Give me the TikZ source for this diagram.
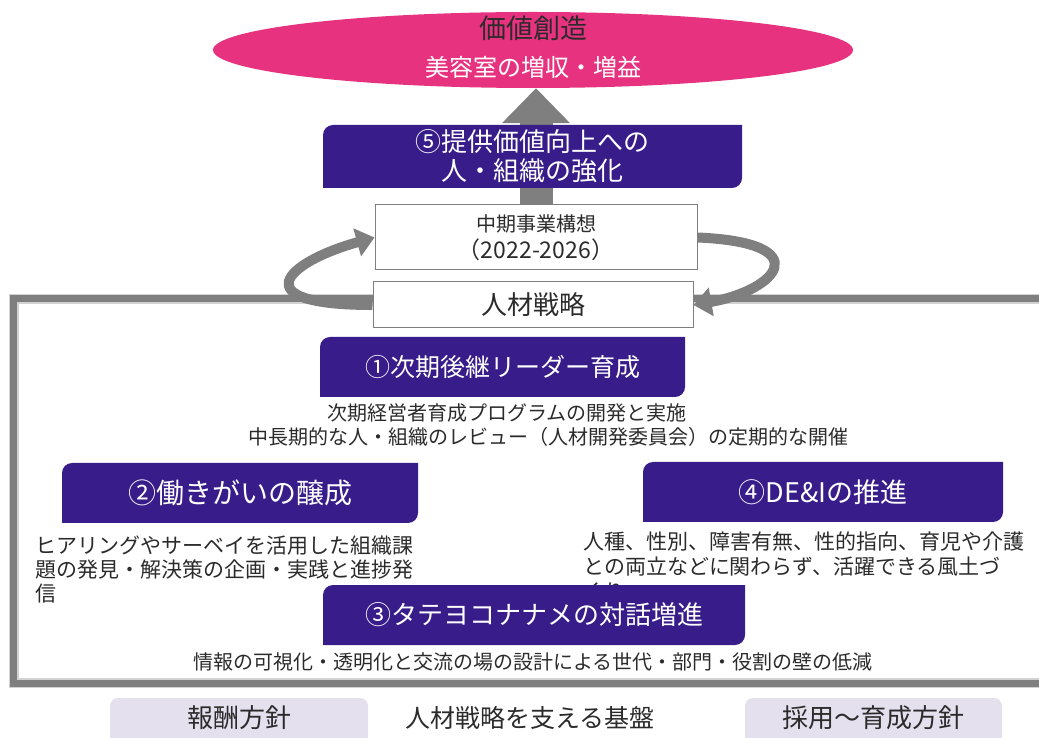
\documentclass[tikz,border=0pt]{standalone}
\usepackage{fontspec}
\setmainfont{Noto Sans CJK JP}
\usetikzlibrary{arrows.meta,shapes.geometric}
\definecolor{purp}{HTML}{371C8A}
\definecolor{pinkc}{HTML}{E6327F}
\definecolor{arrg}{HTML}{7F7F7F}
\definecolor{lav}{HTML}{E4E0EE}
\definecolor{txt}{HTML}{2B2B2B}
\pgfdeclarelayer{bg}
\pgfsetlayers{bg,main}
\tikzset{
  ptext/.style={text=white, align=center, inner sep=0pt},
  dtext/.style={text=txt, inner sep=0pt, font=\fontsize{20}{24}\selectfont},
  wbox/.style={draw=arrg, line width=1pt, fill=white, inner sep=0pt, align=center, text=txt},
  ribbon/.style={draw=arrg, line width=10pt, -{Triangle[length=18pt,width=28pt]}},
}
% name, x1, ybottom, x2, ytop, font size, text
\newcommand\pbox[7]{%
  \fill[purp] (#2pt,#3pt) -- (#2pt,#5pt-10pt) arc[start angle=180,end angle=90,radius=10pt]
    -- (#4pt,#5pt) -- (#4pt,#3pt+10pt) arc[start angle=0,end angle=-90,radius=10pt] -- cycle;
  \node[ptext, font=\fontsize{#6}{#6}\selectfont] (#1) at ({(#2+#4)/2*1pt},{(#3+#5)/2*1pt}) {#7};
}
\begin{document}
\begin{tikzpicture}[x=1pt,y=1pt]
\clip (0,0) rectangle (1039,737);

% top ellipse
\node[ellipse, fill=pinkc, minimum width=640pt, minimum height=76pt, inner sep=0pt] (ell) at (533,687) {};
\node[text=txt, inner sep=0pt, font=\fontsize{27}{27}\selectfont] (ellA) at (533,709) {価値創造};
\node[text=white, inner sep=0pt, font=\fontsize{24}{24}\selectfont] (ellB) at (533,670) {美容室の増収・増益};

% box 5
\fill[purp] (323pt,549pt) -- (323pt,602pt) arc[start angle=180,end angle=90,radius=10pt]
  -- (742pt,612pt) -- (742pt,559pt) arc[start angle=0,end angle=-90,radius=10pt] -- cycle;
\node[ptext, font=\fontsize{26}{29}\selectfont] (b5) at (532,580.5) {⑤提供価値向上への\\人・組織の強化};

% white boxes
\node[wbox, minimum width=322pt, minimum height=65pt] (mid) at (536,499.5)
  {{\fontsize{20}{24}\selectfont 中期事業構想}\\[5pt]{\fontsize{23}{27}\selectfont （2022-2026）}};
\node[wbox, minimum width=320pt, minimum height=46pt, font=\fontsize{26}{26}\selectfont] (jin) at (533,432) {人材戦略};

% background layer: frame and up arrow
\begin{pgfonlayer}{bg}
  \draw[gray!35, line width=10pt] (1045,438) -- (13.5,438) -- (13.5,54) -- (1045,54);
  \draw[arrg, line width=7pt] (1045,438) -- (13.5,438) -- (13.5,54) -- (1045,54);
  \draw[arrg, line width=33pt, -{Triangle[length=35pt,width=66pt]}] (mid.north) -- (mid.north |- ell.south);
\end{pgfonlayer}

% circular ribbons
\draw[ribbon] (jin.west) .. controls +(-130,0) and +(-90,-25) .. (mid.west);
\draw[ribbon] (mid.east) .. controls +(120,-5) and +(85,15) .. (jin.east);

% box 1
\pbox{b1}{320}{340}{685}{400}{25}{①次期後継リーダー育成}
\node[dtext] (d1a) at (507,324) {次期経営者育成プログラムの開発と実施};
\node[dtext] (d1b) at (548,300) {中長期的な人・組織のレビュー（人材開発委員会）の定期的な開催};

% box 2
\pbox{b2}{62}{214}{418}{274}{28}{②働きがいの醸成}
\node[dtext, font=\fontsize{21}{24}\selectfont, align=left, anchor=north west] (d2) at (35,201)
  {ヒアリングやサーベイを活用した組織課\\題の発見・解決策の企画・実践と進捗発\\信};

% box 4
\pbox{b4}{643}{215}{1003}{275}{27}{④DE\&Iの推進}
\node[dtext, font=\fontsize{21}{25}\selectfont, align=left, anchor=north west] (d4) at (583,205)
  {人種、性別、障害有無、性的指向、育児や介護\\との両立などに関わらず、活躍できる風土づ\\くり};

% box 3
\pbox{b3}{323}{92}{745}{152}{26}{③タテヨコナナメの対話増進}
\node[dtext] (d3) at (533,75) {情報の可視化・透明化と交流の場の設計による世代・部門・役割の壁の低減};

% bottom foundation
\fill[lav, rounded corners=8pt] (110,-12) rectangle (368,39);
\fill[lav, rounded corners=8pt] (745,-12) rectangle (1002,39);
\node[text=txt, inner sep=0pt, font=\fontsize{26}{26}\selectfont] (f1) at (239,19) {報酬方針};
\node[text=txt, inner sep=0pt, font=\fontsize{25}{25}\selectfont] (f2) at (530,19) {人材戦略を支える基盤};
\node[text=txt, inner sep=0pt, font=\fontsize{26}{26}\selectfont] (f3) at (873,19) {採用〜育成方針};
\end{tikzpicture}
\end{document}
